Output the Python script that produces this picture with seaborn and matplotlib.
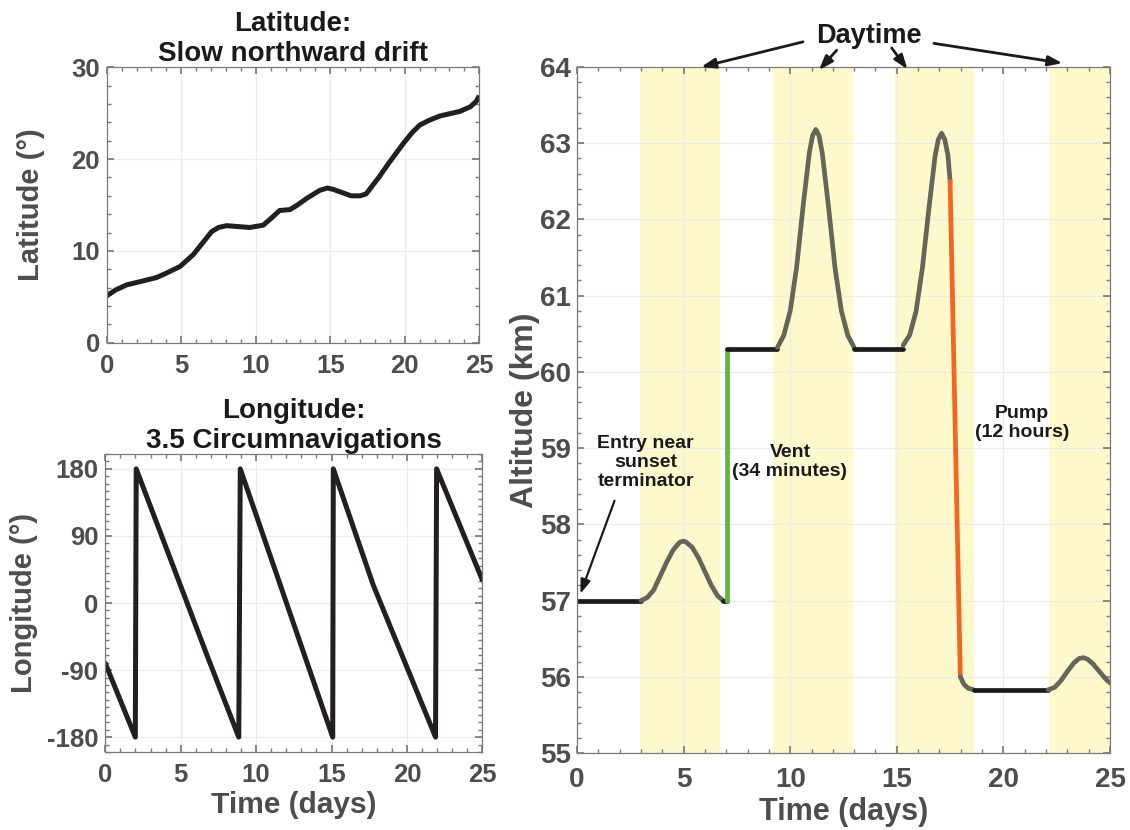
import numpy as np
import pandas as pd
import seaborn as sns
import matplotlib.pyplot as plt
from matplotlib.ticker import MultipleLocator

sns.set_theme(style='ticks')
plt.rcParams['font.family'] = ['Liberation Sans', 'DejaVu Sans']
plt.rcParams['font.weight'] = 'bold'
plt.rcParams['axes.unicode_minus'] = False

# Latitude track (days, degrees)
lat_time = [0.0, 0.6, 1.34, 2.24, 3.35, 3.9, 4.92, 5.81, 6.4, 7.04, 7.5, 8.05, 9.6, 10.5,
            11.0, 11.6, 12.3, 12.8, 13.4, 14.3, 14.8, 15.2, 16.4, 17.0, 17.4, 18.3,
            18.9, 19.9, 20.5, 21.0, 21.6, 22.36, 23.7, 24.4, 24.8, 25.0]
lat_deg = [5.1, 5.75, 6.3, 6.65, 7.1, 7.5, 8.3, 9.6, 10.8, 12.1, 12.55, 12.75, 12.55, 12.8,
           13.5, 14.4, 14.5, 15.0, 15.7, 16.6, 16.85, 16.7, 16.0, 16.0, 16.2, 18.1,
           19.5, 21.7, 22.9, 23.7, 24.2, 24.7, 25.2, 25.7, 26.3, 26.9]

# Longitude track (days, degrees), wraps at +/-180
lon_time = [0.0, 1.99, 2.05, 6.74, 8.85, 8.95, 15.08, 15.12, 17.77, 21.9, 21.97, 25.0]
lon_deg = [-81, -180, 180, -70, -180, 180, -180, 180, 24, -180, 180, 31]

# Altitude profile, split into phases
phase_names = ['flat1', 'bump1', 'flat1b', 'vent', 'flat2', 'bump2', 'flat3',
               'bump3', 'pump', 'settle', 'flat4', 'bump4']
phase_time = [
    [0.0, 3.0],
    [3.0, 3.3, 3.6, 3.9, 4.2, 4.5, 4.8, 4.95, 5.1, 5.4, 5.7, 6.0, 6.3, 6.6, 6.85],
    [6.85, 7.05],
    [7.05, 7.05],
    [7.05, 9.4],
    [9.4, 9.7, 10.0, 10.3, 10.6, 10.9, 11.05, 11.2, 11.35, 11.5, 11.8, 12.1, 12.4, 12.7, 13.0],
    [13.0, 15.3],
    [15.3, 15.6, 15.9, 16.2, 16.5, 16.8, 16.95, 17.1, 17.25, 17.4, 17.5],
    [17.5, 17.98],
    [17.98, 18.15, 18.35, 18.6],
    [18.6, 22.1],
    [22.1, 22.4, 22.7, 23.0, 23.3, 23.55, 23.75, 23.95, 24.2, 24.5, 24.8, 25.0],
]
phase_alt = [
    [57.0, 57.0],
    [57.0, 57.04, 57.14, 57.32, 57.5, 57.66, 57.76, 57.78, 57.77, 57.7, 57.56, 57.38, 57.2, 57.06, 57.0],
    [57.0, 57.0],
    [57.0, 60.3],
    [60.3, 60.3],
    [60.32, 60.48, 60.8, 61.37, 62.16, 62.88, 63.1, 63.18, 63.1, 62.88, 62.16, 61.37, 60.8, 60.48, 60.32],
    [60.3, 60.3],
    [60.35, 60.48, 60.79, 61.36, 62.13, 62.84, 63.05, 63.13, 63.05, 62.84, 62.5],
    [62.5, 56.0],
    [56.0, 55.9, 55.85, 55.83],
    [55.83, 55.83],
    [55.83, 55.86, 55.95, 56.07, 56.18, 56.24, 56.25, 56.23, 56.17, 56.07, 55.97, 55.92],
]
phase_colors = ['#1c1c1c', '#65655a', '#1c1c1c', '#5cb83c', '#1c1c1c', '#65655a',
                '#1c1c1c', '#65655a', '#f26522', '#65655a', '#1c1c1c', '#65655a']

# Daytime windows (days)
day_start = [2.95, 9.2, 14.92, 22.14]
day_end = [6.7, 12.95, 18.62, 25.0]

TICK_GRAY = '#4d4d4d'
TITLE_BLACK = '#1a1a1a'


def style_axes(ax, tick_size, xpad, ypad):
    ax.set_axisbelow(True)
    ax.grid(True, which='major', color='#ebebeb', lw=0.8)
    ax.tick_params(which='both', direction='in', top=True, right=True,
                   colors='#7a7a7a', labelcolor=TICK_GRAY, labelsize=tick_size)
    ax.tick_params(which='major', length=5)
    ax.tick_params(which='minor', length=3)
    ax.tick_params(axis='x', pad=xpad)
    ax.tick_params(axis='y', pad=ypad)
    for lbl in ax.get_xticklabels() + ax.get_yticklabels():
        lbl.set_fontweight('bold')
    for sp in ax.spines.values():
        sp.set_color('#7a7a7a')
        sp.set_linewidth(0.9)


fig = plt.figure(figsize=(11.3, 8.3), dpi=100)
W, H = 1130, 830
ax_lat = fig.add_axes([106.7 / W, 1 - 342.7 / H, 372.6 / W, 275.4 / H])
ax_lon = fig.add_axes([105.3 / W, 1 - 752 / H, 377 / W, 298 / H])
ax_alt = fig.add_axes([577 / W, 1 - 753 / H, 533 / W, 686 / H])

# Latitude panel
lat_df = pd.DataFrame({'time': lat_time, 'lat': lat_deg})
sns.lineplot(data=lat_df, x='time', y='lat', ax=ax_lat, color='#231f20', lw=3.6,
             sort=False, estimator=None, solid_capstyle='butt', solid_joinstyle='round')
ax_lat.set_xlim(0, 25)
ax_lat.set_ylim(0, 30)
ax_lat.set_xticks([0, 5, 10, 15, 20, 25])
ax_lat.set_yticks([0, 10, 20, 30])
ax_lat.xaxis.set_minor_locator(MultipleLocator(1))
ax_lat.yaxis.set_minor_locator(MultipleLocator(2))
style_axes(ax_lat, 18.5, 8, 5)
ax_lat.set_xlabel('')
ax_lat.set_ylabel('Latitude (°)', fontsize=21, fontweight='bold', color=TICK_GRAY)
ax_lat.yaxis.set_label_coords(-0.165, 0.5)
ax_lat.set_title('Latitude:\nSlow northward drift', fontsize=20, fontweight='bold',
                 color=TITLE_BLACK, pad=3, linespacing=1.2)

# Longitude panel
lon_df = pd.DataFrame({'time': lon_time, 'lon': lon_deg})
sns.lineplot(data=lon_df, x='time', y='lon', ax=ax_lon, color='#231f20', lw=3.6,
             sort=False, estimator=None, solid_joinstyle='round')
ax_lon.set_xlim(0, 25)
ax_lon.set_ylim(-200, 200)
ax_lon.set_xticks([0, 5, 10, 15, 20, 25])
ax_lon.set_yticks([-180, -90, 0, 90, 180])
ax_lon.xaxis.set_minor_locator(MultipleLocator(1))
ax_lon.yaxis.set_minor_locator(MultipleLocator(10))
style_axes(ax_lon, 18.5, 8, 5)
ax_lon.set_xlabel('Time (days)', fontsize=21.5, fontweight='bold', color=TICK_GRAY)
ax_lon.xaxis.set_label_coords(0.5, -0.13)
ax_lon.set_ylabel('Longitude (°)', fontsize=21, fontweight='bold', color=TICK_GRAY)
ax_lon.yaxis.set_label_coords(-0.178, 0.5)
ax_lon.set_title('Longitude:\n3.5 Circumnavigations', fontsize=20, fontweight='bold',
                 color=TITLE_BLACK, pad=3, linespacing=1.2)

# Altitude panel
for s, e in zip(day_start, day_end):
    ax_alt.axvspan(s, e, color='#fdf9cc', lw=0, zorder=0.2)

alt_df = pd.DataFrame({
    'time': [t for seg in phase_time for t in seg],
    'alt': [z for seg in phase_alt for z in seg],
    'phase': [name for name, seg in zip(phase_names, phase_time) for _ in seg],
})
sns.lineplot(data=alt_df, x='time', y='alt', hue='phase', ax=ax_alt,
             palette=dict(zip(phase_names, phase_colors)), hue_order=phase_names,
             lw=3.4, sort=False, estimator=None, legend=False,
             solid_capstyle='round', solid_joinstyle='round')
ax_alt.set_xlim(0, 25)
ax_alt.set_ylim(55, 64)
ax_alt.set_xticks([0, 5, 10, 15, 20, 25])
ax_alt.set_yticks(range(55, 65))
ax_alt.xaxis.set_minor_locator(MultipleLocator(1))
ax_alt.yaxis.set_minor_locator(MultipleLocator(0.2))
style_axes(ax_alt, 20, 10, 4.5)
ax_alt.set_xlabel('Time (days)', fontsize=22, fontweight='bold', color=TICK_GRAY)
ax_alt.xaxis.set_label_coords(0.5, -0.064)
ax_alt.set_ylabel('Altitude (km)', fontsize=23, fontweight='bold', color=TICK_GRAY)
ax_alt.yaxis.set_label_coords(-0.07, 0.5)

arrow_kw = dict(arrowstyle='-|>,head_length=0.7,head_width=0.25', color='#1a1a1a',
                lw=2.0, shrinkA=0, shrinkB=0)
ax_alt.text(13.7, 64.41, 'Daytime', ha='center', va='center', fontsize=19.5,
            fontweight='bold', color=TITLE_BLACK, clip_on=False)
for head, tail in [((5.82, 64.0), (10.6, 64.33)), ((11.35, 63.96), (12.18, 64.22)),
                   ((15.5, 63.97), (14.76, 64.25)), ((22.77, 64.05), (16.74, 64.31))]:
    ax_alt.annotate('', xy=head, xytext=tail, arrowprops=arrow_kw, annotation_clip=False)

ax_alt.text(3.22, 58.81, 'Entry near\nsunset\nterminator', ha='center', va='center',
            fontsize=14, fontweight='bold', color=TITLE_BLACK, linespacing=1.15)
ax_alt.annotate('', xy=(0.16, 57.09), xytext=(1.76, 58.31), arrowprops=dict(arrow_kw, lw=1.6))
ax_alt.text(9.99, 58.82, 'Vent\n(34 minutes)', ha='center', va='center',
            fontsize=14, fontweight='bold', color=TITLE_BLACK, linespacing=1.15)
ax_alt.text(20.88, 59.33, 'Pump\n(12 hours)', ha='center', va='center',
            fontsize=14, fontweight='bold', color=TITLE_BLACK, linespacing=1.15)

fig.savefig('out.png', dpi=100)
